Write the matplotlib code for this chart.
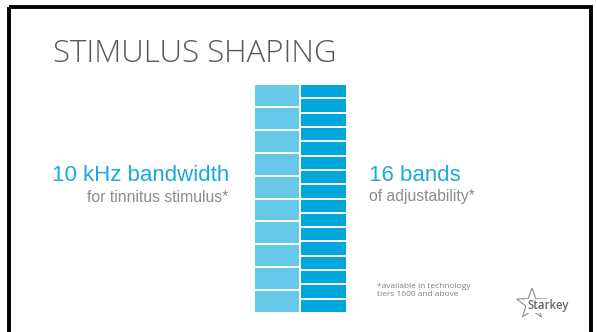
import matplotlib
matplotlib.use("Agg")
import matplotlib.pyplot as plt
from matplotlib.patches import Rectangle, Polygon
import numpy as np

# slide texts
title = "STIMULUS SHAPING"
left_head = "10 kHz bandwidth"
left_sub = "for tinnitus stimulus*"
right_head = "16 bands"
right_sub = "of adjustability*"
footnote = "*available in technology\ntiers 1600 and above"

# band columns (relative height of each band, bottom to top)
columns = ["10 kHz", "16 bands"]
left_bands = [1, 1, 1, 1, 1, 1, 1, 1, 1, 1]
right_bands = [1, 1, 1, 1, 1, 1, 1, 1, 1, 1, 1, 1, 1, 1, 1, 1]
band_colors = ["#66C9EA", "#00A7DD"]

W, H = 597, 332
fig = plt.figure(figsize=(W / 100, H / 100), dpi=100)
fig.patch.set_facecolor("white")

# full-slide axes in pixel units
ax = fig.add_axes([0, 0, 1, 1])
ax.set_xlim(0, W)
ax.set_ylim(H, 0)
ax.axis("off")

# black frame of the slide
ax.add_patch(Rectangle((8.5, 7), 582, 340, fill=False, edgecolor="black", linewidth=2.8))

ax.text(53, 62.5, title, fontsize=22.5, family="Open Sans", fontweight="light",
        color="#595959", ha="left", va="baseline")

ax.text(229, 181, left_head, fontsize=16, family="Liberation Sans",
        color="#1AA9E1", ha="right", va="baseline")
ax.text(228, 201.5, left_sub, fontsize=11.3, family="Liberation Sans",
        color="#8C8C8C", ha="right", va="baseline")
ax.text(369, 181, right_head, fontsize=16, family="Liberation Sans",
        color="#1AA9E1", ha="left", va="baseline")
ax.text(369, 201.5, right_sub, fontsize=11.3, family="Liberation Sans",
        color="#8C8C8C", ha="left", va="baseline")

ax.text(377, 296.5, footnote, fontsize=6, family="Open Sans",
        color="#7F7F7F", ha="left", va="baseline", linespacing=1.2)

# Starkey logo (outline star + wordmark)
cx, cy, r_out, r_in = 532, 304, 16, 6.5
ang = np.deg2rad(90 + np.arange(10) * 36)
rad = np.where(np.arange(10) % 2 == 0, r_out, r_in)
star = np.column_stack([cx + rad * np.cos(ang), cy - rad * np.sin(ang)])
ax.add_patch(Polygon(star, closed=True, fill=False, edgecolor="#8A8A8A", linewidth=0.8))
ax.text(527, 309.5, "Starkey", fontsize=8.3, family="Open Sans", color="#666666",
        fontweight="semibold", ha="left", va="baseline",
        bbox=dict(boxstyle="square,pad=0.08", facecolor="white", edgecolor="none"))

# band columns
bx0, bx1, by0, by1 = 253.5, 346.5, 84, 313
axb = fig.add_axes([bx0 / W, 1 - by1 / H, (bx1 - bx0) / W, (by1 - by0) / H])
axb.set_xlim(-0.5, 1.5)
axb.axis("off")
for i, bands in enumerate([left_bands, right_bands]):
    vals = np.array(bands, dtype=float)
    bottoms = np.concatenate([[0], np.cumsum(vals)[:-1]]) / vals.sum()
    axb.bar(np.full(len(vals), i), vals / vals.sum(), bottom=bottoms, width=1,
            color=band_colors[i], edgecolor="white", linewidth=1.4, clip_on=False)
axb.set_ylim(0, 1)

fig.savefig("out.png", dpi=100, facecolor="white")
